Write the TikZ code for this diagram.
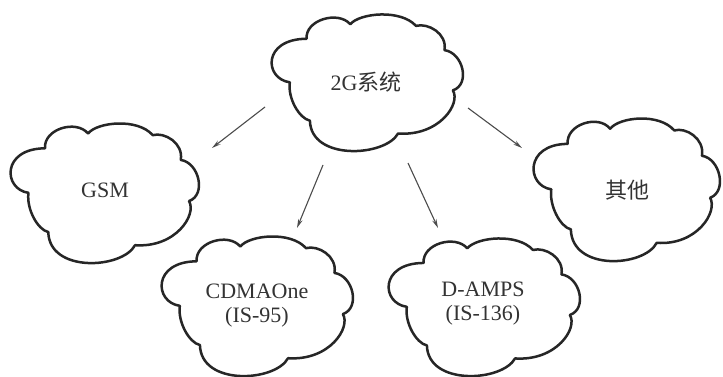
\documentclass[tikz,border=0pt]{standalone}
\usepackage{fontspec}
\setmainfont{Liberation Serif}
\newfontfamily\cjk{Noto Sans CJK SC}
\usetikzlibrary{arrows.meta}
\begin{document}
\begin{tikzpicture}[x=1pt,y=-1pt,
  cloudline/.style={draw=black!85, line width=2.5pt, line join=round},
  lbl/.style={text=black!80, font=\fontsize{22}{24}\selectfont, align=center, inner sep=0pt},
  arr/.style={draw=black!70, line width=1.1pt, -{Stealth[length=9pt,width=4.5pt]}},
  cloudpic/.pic={
    \path[cloudline] (0.198,0.188)
      .. controls (0.19,0.05) and (0.36,-0.02) .. (0.422,0.082)
      .. controls (0.47,0.0) and (0.68,-0.03) .. (0.759,0.094)
      .. controls (0.82,0.07) and (0.92,0.15) .. (0.905,0.271)
      .. controls (1.0,0.29) and (1.04,0.52) .. (0.948,0.565)
      .. controls (0.99,0.66) and (0.88,0.90) .. (0.667,0.88)
      .. controls (0.6,1.05) and (0.22,1.08) .. (0.215,0.786)
      .. controls (0.16,0.77) and (0.10,0.62) .. (0.112,0.506)
      .. controls (-0.02,0.48) and (-0.03,0.19) .. (0.198,0.188) -- cycle;
  }
]
\fill[white] (0,0) rectangle (723,377);
\useasboundingbox (0,0) rectangle (723,377);

\pic[xscale=195,yscale=137] at (268,13) {cloudpic};
\pic[xscale=192,yscale=140] at (7,122) {cloudpic};
\pic[xscale=190,yscale=143] at (530,117) {cloudpic};
\pic[xscale=195,yscale=140] at (158,235) {cloudpic};
\pic[xscale=195,yscale=138] at (385,237) {cloudpic};

\node[lbl] (sys) at (366,82) {2G{\cjk 系统}};
\node[lbl] (gsm) at (105,190) {GSM};
\node[lbl] (other) at (627,190) {{\cjk 其他}};
\node[lbl] (cdma) at (257,306) {CDMAOne\\(IS-95)};
\node[lbl] (damps) at (483,304) {D-AMPS\\(IS-136)};

\coordinate (a1s) at (265,107); \coordinate (a1e) at (212,148);
\coordinate (a2s) at (323,165); \coordinate (a2e) at (297,228);
\coordinate (a3s) at (408,163); \coordinate (a3e) at (438,228);
\coordinate (a4s) at (468,108); \coordinate (a4e) at (522,148);
\draw[arr] (a1s) -- (a1e);
\draw[arr] (a2s) -- (a2e);
\draw[arr] (a3s) -- (a3e);
\draw[arr] (a4s) -- (a4e);
\end{tikzpicture}
\end{document}
